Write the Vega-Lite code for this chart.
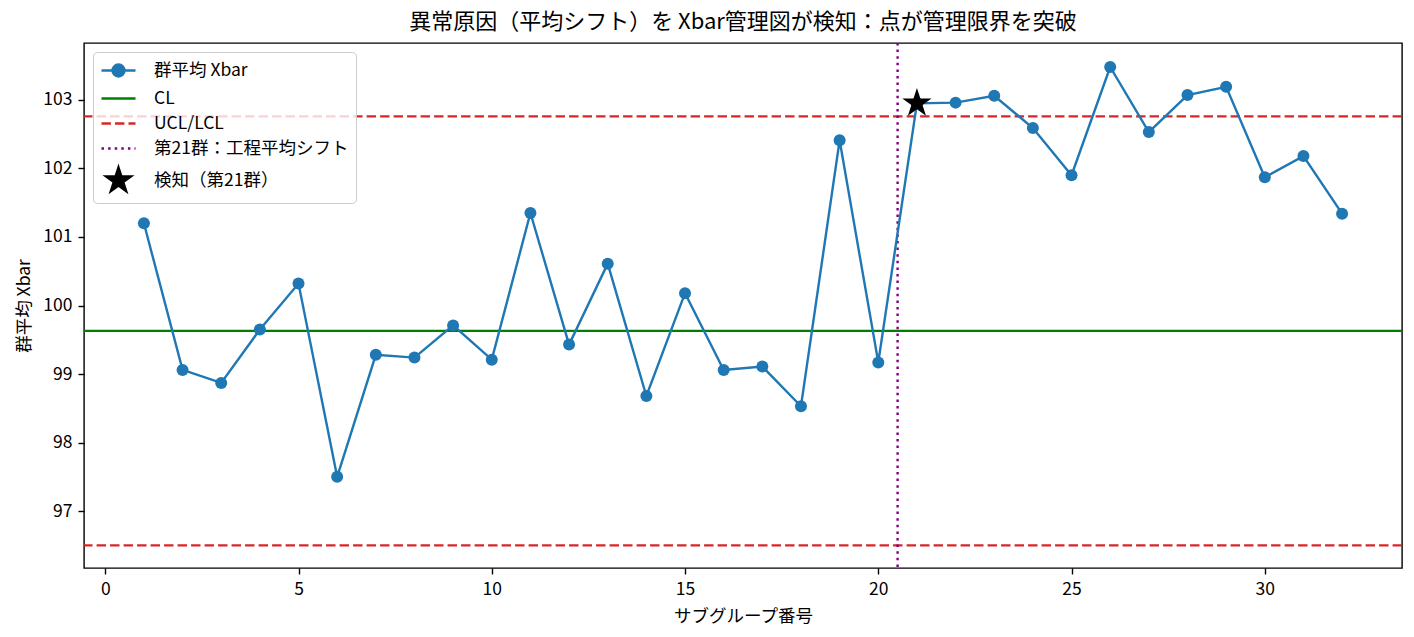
{
  "$schema": "https://vega.github.io/schema/vega-lite/v6.json",
  "description": "Xbar control chart with a mean shift at subgroup 21",
  "autosize": "none",
  "width": 1318,
  "height": 525,
  "padding": {"left": 84, "top": 43, "right": 12, "bottom": 69},
  "background": "white",
  "title": {
    "text": "異常原因（平均シフト）を Xbar管理図が検知：点が管理限界を突破",
    "fontSize": 22,
    "fontWeight": "normal",
    "font": "Noto Sans CJK JP",
    "color": "black",
    "anchor": "middle",
    "offset": 8
  },
  "datasets": {
    "xbar": [
      {"g": 1, "xbar": 101.20}, {"g": 2, "xbar": 99.06}, {"g": 3, "xbar": 98.87},
      {"g": 4, "xbar": 99.65}, {"g": 5, "xbar": 100.32}, {"g": 6, "xbar": 97.50},
      {"g": 7, "xbar": 99.28}, {"g": 8, "xbar": 99.24}, {"g": 9, "xbar": 99.71},
      {"g": 10, "xbar": 99.21}, {"g": 11, "xbar": 101.35}, {"g": 12, "xbar": 99.43},
      {"g": 13, "xbar": 100.61}, {"g": 14, "xbar": 98.68}, {"g": 15, "xbar": 100.18},
      {"g": 16, "xbar": 99.06}, {"g": 17, "xbar": 99.11}, {"g": 18, "xbar": 98.53},
      {"g": 19, "xbar": 102.41}, {"g": 20, "xbar": 99.17}, {"g": 21, "xbar": 102.95},
      {"g": 22, "xbar": 102.96}, {"g": 23, "xbar": 103.06}, {"g": 24, "xbar": 102.59},
      {"g": 25, "xbar": 101.90}, {"g": 26, "xbar": 103.48}, {"g": 27, "xbar": 102.53},
      {"g": 28, "xbar": 103.07}, {"g": 29, "xbar": 103.19}, {"g": 30, "xbar": 101.87},
      {"g": 31, "xbar": 102.18}, {"g": 32, "xbar": 101.34}
    ],
    "limits": [
      {"name": "UCL", "value": 102.76},
      {"name": "LCL", "value": 96.50}
    ],
    "center": [{"name": "CL", "value": 99.63}],
    "shift": [{"g": 20.5}],
    "detect": [{"g": 21, "xbar": 102.95, "series": "検知（第21群）"}]
  },
  "layer": [
    {
      "data": {"name": "limits"},
      "mark": {"type": "rule", "color": "#d62728", "strokeWidth": 2.4, "strokeDash": [9.4, 4.1]},
      "encoding": {"y": {"field": "value", "type": "quantitative"}}
    },
    {
      "data": {"name": "center"},
      "mark": {"type": "rule", "color": "green", "strokeWidth": 2.4},
      "encoding": {"y": {"field": "value", "type": "quantitative"}}
    },
    {
      "data": {"name": "shift"},
      "mark": {"type": "rule", "color": "purple", "strokeWidth": 2.4, "strokeDash": [2.5, 4.1]},
      "encoding": {"x": {"field": "g", "type": "quantitative"}}
    },
    {
      "data": {"name": "xbar"},
      "mark": {
        "type": "line",
        "color": "#1f77b4",
        "strokeWidth": 2.4,
        "point": {"filled": true, "size": 144, "color": "#1f77b4", "opacity": 1}
      },
      "encoding": {
        "x": {
          "field": "g",
          "type": "quantitative",
          "title": "サブグループ番号",
          "scale": {"domain": [-0.55, 33.55], "nice": false, "zero": false},
          "axis": {"values": [0, 5, 10, 15, 20, 25, 30], "format": "d"}
        },
        "y": {
          "field": "xbar",
          "type": "quantitative",
          "title": "群平均 Xbar",
          "scale": {"domain": [96.17, 103.83], "nice": false, "zero": false},
          "axis": {"values": [97, 98, 99, 100, 101, 102, 103], "format": "d"}
        }
      }
    },
    {
      "data": {"name": "detect"},
      "mark": {"type": "point", "filled": true, "size": 560, "opacity": 1},
      "encoding": {
        "x": {"field": "g", "type": "quantitative"},
        "y": {"field": "xbar", "type": "quantitative"},
        "color": {
          "field": "series",
          "type": "nominal",
          "title": null,
          "scale": {
            "domain": ["群平均 Xbar", "CL", "UCL/LCL", "第21群：工程平均シフト", "検知（第21群）"],
            "range": ["#1f77b4", "green", "#d62728", "purple", "black"]
          },
          "legend": {
            "labelLimit": 400,
            "encode": {
              "symbols": {
                "update": {
                  "stroke": {"scale": "color", "field": "value"},
                  "fill": {"scale": "color", "field": "value"},
                  "strokeWidth": {"value": 2.4}
                }
              }
            }
          }
        },
        "shape": {
          "field": "series",
          "type": "nominal",
          "title": null,
          "scale": {
            "domain": ["群平均 Xbar", "CL", "UCL/LCL", "第21群：工程平均シフト", "検知（第21群）"],
            "range": [
              "M-1.7,0H1.7M0.6,0A0.6,0.6 0 1,1 -0.6,0A0.6,0.6 0 1,1 0.6,0Z",
              "M-1.7,0H1.7",
              "M-1.7,0H-0.76M-0.35,0H0.59M1,0H1.7",
              "M-1.7,0H-1.45M-1.04,0H-0.79M-0.38,0H-0.13M0.28,0H0.53M0.94,0H1.19M1.6,0H1.7",
              "M0,-1.3L0.292,-0.402L1.236,-0.402L0.472,0.153L0.764,1.052L0,0.496L-0.764,1.052L-0.472,0.153L-1.236,-0.402L-0.292,-0.402Z"
            ]
          }
        }
      }
    }
  ],
  "config": {
    "font": "Noto Sans CJK JP",
    "view": {"stroke": "black", "strokeWidth": 1.4},
    "axis": {
      "grid": false,
      "domain": false,
      "tickColor": "black",
      "tickSize": 6,
      "tickWidth": 1.4,
      "labelColor": "black",
      "labelFontSize": 17.5,
      "labelPadding": 6,
      "titleColor": "black",
      "titleFontSize": 17.5,
      "titleFontWeight": "normal"
    },
    "axisX": {"titlePadding": 10},
    "axisY": {"titlePadding": 9},
    "legend": {
      "orient": "top-left",
      "offset": 9,
      "padding": 7,
      "symbolSize": 400,
      "symbolOffset": 7,
      "symbolStrokeWidth": 2.4,
      "symbolOpacity": 1,
      "labelFontSize": 17.5,
      "labelColor": "black",
      "labelOffset": 24,
      "rowPadding": 5,
      "fillColor": "rgba(255,255,255,0.8)",
      "strokeColor": "#cccccc",
      "cornerRadius": 4
    }
  }
}
